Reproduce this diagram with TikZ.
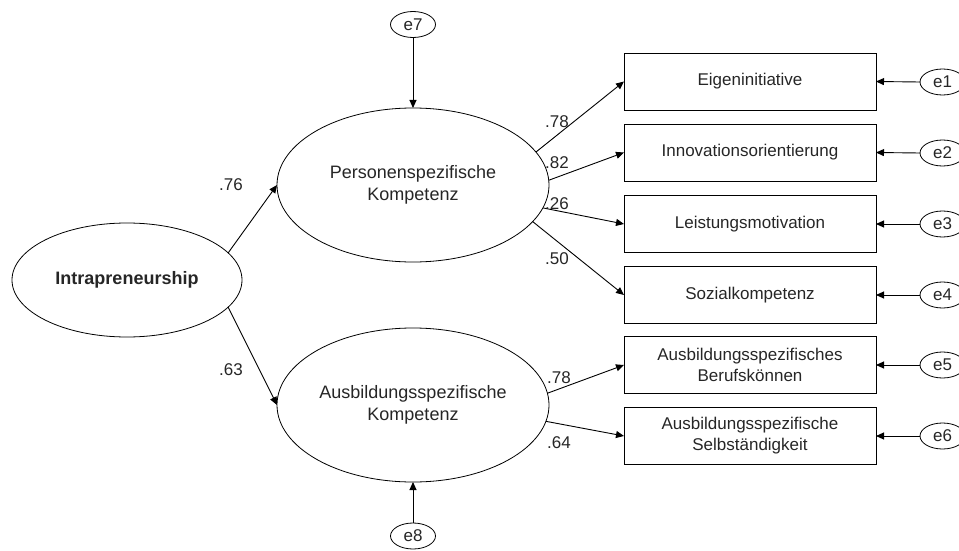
\documentclass[tikz,border=0pt]{standalone}
\usepackage{fontspec}
\setmainfont{Liberation Sans}
\usetikzlibrary{shapes.geometric,arrows.meta}
\begin{document}
\begin{tikzpicture}[x=1pt,y=-1pt,
  every node/.style={font=\fontsize{17}{21}\selectfont,text=black!85},
  lat/.style={ellipse,draw,line width=0.8pt,inner sep=0pt,outer sep=0pt,align=center,font=\fontsize{18}{21.5}\selectfont},
  err/.style={ellipse,draw,line width=0.8pt,minimum width=45pt,minimum height=26pt,inner sep=0pt,outer sep=0pt},
  obs/.style={rectangle,draw,line width=0.8pt,minimum width=252pt,minimum height=57pt,inner sep=0pt,outer sep=0pt,align=center},
  arr/.style={line width=0.9pt,-{Triangle[length=8pt,width=7pt]}},
  lbl/.style={inner sep=0pt}]
\useasboundingbox (0,0) rectangle (959,551);
% latent variables
\node[lat,minimum width=230pt,minimum height=114pt,font=\fontsize{18}{22}\selectfont\bfseries] (intra) at (127,280) {Intrapreneurship};
\node[lat,minimum width=272pt,minimum height=154pt] (pers) at (413,185) {Personenspezifische\\Kompetenz};
\node[lat,minimum width=272pt,minimum height=154pt] (ausb) at (413,405) {Ausbildungsspezifische\\Kompetenz};
% observed
\node[obs] (b1) at (750,81.5) {Eigeninitiative};
\node[obs] (b2) at (750,152.5) {Innovationsorientierung};
\node[obs] (b3) at (750,224) {Leistungsmotivation};
\node[obs] (b4) at (750,295) {Sozialkompetenz};
\node[obs] (b5) at (750,365) {Ausbildungsspezifisches\\Berufskönnen};
\node[obs] (b6) at (750,436) {Ausbildungsspezifische\\Selbständigkeit};
% errors
\node[err] (e1) at (942.5,82) {e1};
\node[err] (e2) at (942.5,153) {e2};
\node[err] (e3) at (942.5,224) {e3};
\node[err] (e4) at (942.5,295) {e4};
\node[err] (e5) at (942.5,365) {e5};
\node[err] (e6) at (942.5,436) {e6};
\node[err] (e7) at (413,24.5) {e7};
\node[err] (e8) at (413,536) {e8};
% connectors
\draw[arr] (intra.15) -- (pers.west);
\draw[arr] (intra.-15) -- (ausb.west);
\draw[arr] (pers.15) -- (b1.west);
\draw[arr] (pers.2) -- (b2.west);
\draw[arr] (pers.-10) -- (b3.west);
\draw[arr] (pers.-17) -- (b4.west);
\draw[arr] (ausb.5) -- (b5.west);
\draw[arr] (ausb.-7) -- (b6.west);
\draw[arr] (e7.south) -- (pers.north);
\draw[arr] (e8.north) -- (ausb.south);
\foreach \i in {1,...,6} \draw[arr] (e\i.west) -- (b\i.east);
% labels
\node[lbl] (l1) at (231,185) {.76};
\node[lbl] (l2) at (231,370) {.63};
\node[lbl] (l3) at (557,122) {.78};
\node[lbl] (l4) at (557,163) {.82};
\node[lbl] (l5) at (557,204) {.26};
\node[lbl] (l6) at (557,259) {.50};
\node[lbl] (l7) at (559,378) {.78};
\node[lbl] (l8) at (559,443) {.64};
\end{tikzpicture}
\end{document}
